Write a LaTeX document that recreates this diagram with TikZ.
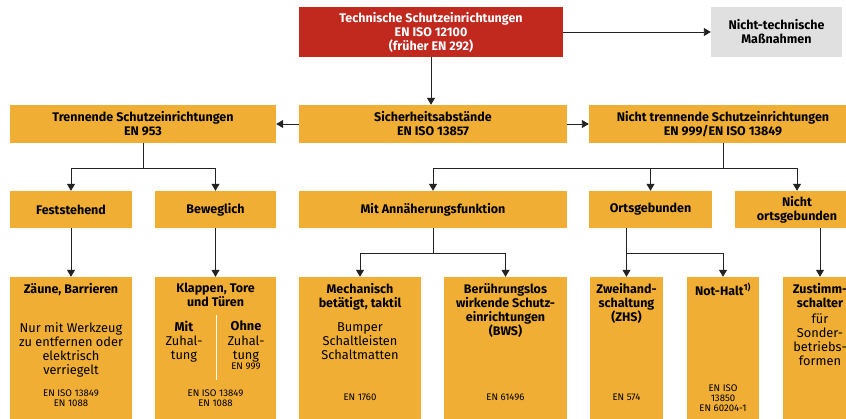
\documentclass[tikz,border=0pt]{standalone}
\usepackage{fontspec}
\setmainfont{Fira Sans}
\usetikzlibrary{arrows.meta}
\definecolor{cred}{RGB}{193,40,30}
\definecolor{corange}{RGB}{240,174,52}
\definecolor{cgray}{RGB}{224,224,224}
\definecolor{cline}{RGB}{35,35,35}
\newcommand\ttlf{\fontsize{12.5}{14}\selectfont\bfseries}
\newcommand\bodyf{\fontsize{12.8}{14.2}\selectfont}
\newcommand\smallf{\fontsize{9.6}{10}\selectfont}
\tikzset{
  obox/.style={fill=corange, draw=none, inner sep=0pt, align=center, font=\ttlf},
  rbox/.style={fill=cred, draw=none, inner sep=0pt, align=center, font=\ttlf, text=white},
  gbox/.style={fill=cgray, draw=none, inner sep=0pt, align=center, font=\ttlf},
  conn/.style={draw=cline, line width=0.9pt},
  arr/.style={conn, -{Triangle[width=8pt,length=7pt]}},
  ttl/.style={anchor=north, inner sep=0pt, align=center, font=\ttlf},
  bdy/.style={anchor=north, inner sep=0pt, align=center, font=\bodyf},
  sml/.style={anchor=north, inner sep=0pt, align=center, font=\smallf},
}
\begin{document}
\begin{tikzpicture}[x=1pt,y=1pt]
\useasboundingbox (0,0) rectangle (846,-419);
\clip (0,0) rectangle (846,-419);
% top row
\node[rbox, minimum width=264pt, minimum height=50pt] (red) at (431,-32)
  {Technische Schutzeinrichtungen\\EN ISO 12100\\(früher EN 292)};
\node[gbox, minimum width=131pt, minimum height=50pt] (gray) at (776.5,-32)
  {Nicht-technische\\Maßnahmen};
% second row
\node[obox, minimum width=266pt, minimum height=38pt] (tr) at (143,-124)
  {Trennende Schutzeinrichtungen\\EN 953};
\node[obox, minimum width=268pt, minimum height=38pt] (sa) at (433,-124)
  {Sicherheitsabstände\\EN ISO 13857};
\node[obox, minimum width=268pt, minimum height=38pt] (nt) at (723,-124)
  {Nicht trennende Schutzeinrichtungen\\EN 999/EN ISO 13849};
% third row
\node[obox, minimum width=122pt, minimum height=37pt] (fs) at (71,-209.5) {Feststehend};
\node[obox, minimum width=121pt, minimum height=37pt] (bw) at (215.5,-209.5) {Beweglich};
\node[obox, minimum width=268pt, minimum height=37pt] (ma) at (433,-209.5) {Mit Annäherungsfunktion};
\node[obox, minimum width=123pt, minimum height=37pt] (og) at (650.5,-209.5) {Ortsgebunden};
\node[obox, minimum width=124pt, minimum height=37pt] (no) at (797,-209.5) {Nicht\\ortsgebunden};
% fourth row boxes
\node[obox, minimum width=122pt, minimum height=148pt] (za) at (71,-351) {};
\node[obox, minimum width=121pt, minimum height=148pt] (kl) at (215.5,-351) {};
\node[obox, minimum width=122pt, minimum height=148pt] (me) at (360,-351) {};
\node[obox, minimum width=123pt, minimum height=148pt] (be) at (505.5,-351) {};
\node[obox, minimum width=73pt, minimum height=148pt] (zw) at (626.5,-351) {};
\node[obox, minimum width=72pt, minimum height=148pt] (nh) at (723,-351) {};
\node[obox, minimum width=74pt, minimum height=148pt] (zu) at (820,-351) {};
% fourth row texts
\node[ttl] (zat) at (71,-283) {Zäune, Barrieren};
\node[bdy] (zab) at (71,-322) {Nur mit Werkzeug\\zu entfernen oder\\elektrisch\\verriegelt};
\node[sml] (zas) at (71,-390) {EN ISO 13849\\EN 1088};
\node[ttl] (klt) at (215.5,-283) {Klappen, Tore\\und Türen};
\node[bdy] (klm) at (184,-321) {\textbf{Mit}\\Zuhal-\\tung};
\node[bdy] (klo) at (246,-321) {\textbf{Ohne}\\Zuhal-\\tung};
\node[sml] (kle) at (246,-363) {EN 999};
\draw[white, line width=1pt] (216,-315) -- (216,-380);
\node[sml] (kls) at (215.5,-390) {EN ISO 13849\\EN 1088};
\node[ttl] (met) at (360,-283) {Mechanisch\\betätigt, taktil};
\node[bdy] (meb) at (360,-322) {Bumper\\Schaltleisten\\Schaltmatten};
\node[sml] (mes) at (360,-394) {EN 1760};
\node[ttl] (bet) at (505.5,-283) {Berührungslos\\wirkende Schutz-\\einrichtungen\\(BWS)};
\node[sml] (bes) at (505.5,-394) {EN 61496};
\node[ttl] (zwt) at (626.5,-283) {Zweihand-\\schaltung\\(ZHS)};
\node[sml] (zws) at (626.5,-394) {EN 574};
\node[ttl] (nht) at (723,-283) {Not-Halt\textsuperscript{1)}};
\node[sml] (nhs) at (723,-385) {EN ISO\\13850\\EN 60204-1};
\node[ttl] (zut) at (820,-283) {Zustimm-\\schalter};
\node[bdy] (zub) at (820,-313) {für\\Sonder-\\betriebs-\\formen};
% connectors
\draw[arr] (red.east) -- (gray.west);
\draw[arr] (red.south) -- (red.south |- sa.north);
\draw[arr] (sa.west) -- (tr.east);
\draw[arr] (sa.east) -- (nt.west);
\coordinate (j1) at (143,-168);
\draw[conn] (tr.south) -- (j1);
\draw[arr] (j1) -| (fs.north);
\draw[arr] (j1) -| (bw.north);
\coordinate (j2) at (723,-168);
\draw[conn] (nt.south) -- (j2);
\draw[arr] (j2) -| (ma.north);
\draw[arr] (j2) -| (og.north);
\draw[arr] (j2) -| (no.north);
\coordinate (j3) at (433,-253);
\draw[conn] (ma.south) -- (j3);
\draw[arr] (j3) -| (me.north);
\draw[arr] (j3) -| (be.north);
\coordinate (j4) at (626.5,-253);
\draw[arr] (og.south -| zw.north) -- (zw.north);
\draw[arr] (j4) -| (nh.north);
\draw[arr] (no.south -| zu.north) -- (zu.north);
\draw[arr] (fs.south) -- (za.north);
\draw[arr] (bw.south) -- (kl.north);
\end{tikzpicture}
\end{document}
